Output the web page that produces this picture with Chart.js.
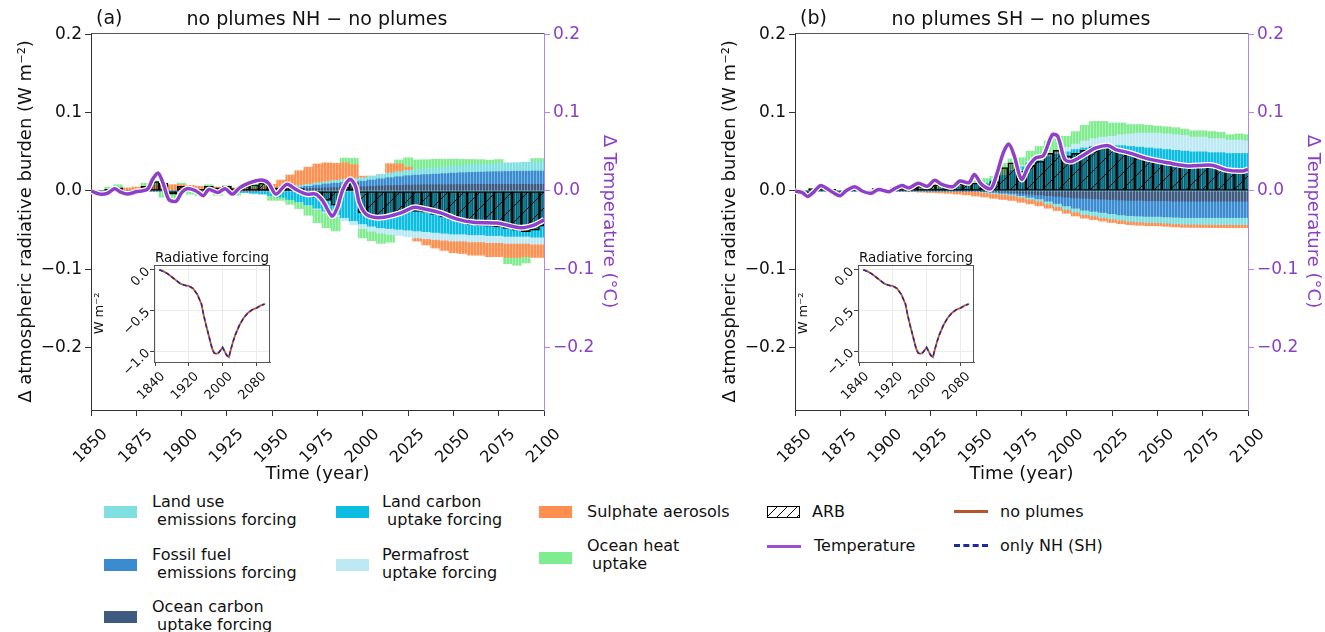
<!DOCTYPE html>
<html>
<head>
<meta charset="utf-8">
<script src="https://cdn.jsdelivr.net/npm/chart.js@4"></script>
<style>
html, body { margin: 0; padding: 0; overflow: hidden; background: #fff; }
body { width: 1325px; height: 632px; position: relative; font-family: 'DejaVu Sans', sans-serif; color: #111; }
canvas { position: absolute; }
.t { position: absolute; white-space: pre; font-size: 16px; line-height: 18px; }
.sw { position: absolute; width: 33px; height: 12px; }
.ln { position: absolute; width: 34px; height: 0; }
.ttl { position: absolute; font-size: 19px; line-height: 22px; white-space: pre; }
.ins { position: absolute; font-size: 13.5px; line-height: 16px; white-space: pre; transform: translateX(-50%); }
</style>
</head>
<body>

<canvas id="mainA" width="660" height="490" style="left:0;top:0"></canvas>
<canvas id="mainB" width="660" height="490" style="left:704px;top:0"></canvas>
<canvas id="insetA" width="192" height="200" style="left:88px;top:240px"></canvas>
<canvas id="insetB" width="192" height="200" style="left:792px;top:240px"></canvas>

<div class="ttl" style="left:96px;top:6px">(a)</div>
<div class="ttl" style="left:317px;top:7px;transform:translateX(-50%)">no plumes NH − no plumes</div>
<div class="ttl" style="left:800px;top:6px">(b)</div>
<div class="ttl" style="left:1021px;top:7px;transform:translateX(-50%)">no plumes SH − no plumes</div>
<div class="ins" style="left:212px;top:249px">Radiative forcing</div>
<div class="ins" style="left:916px;top:249px">Radiative forcing</div>

<!-- legend -->
<div class="sw" style="left:104px;top:506px;background:#80dfe0"></div>
<div class="t" style="left:152px;top:493px">Land use
 emissions forcing</div>
<div class="sw" style="left:104px;top:559px;background:#3b8bd0"></div>
<div class="t" style="left:152px;top:546px">Fossil fuel
 emissions forcing</div>
<div class="sw" style="left:104px;top:611px;background:#3f5a80"></div>
<div class="t" style="left:152px;top:598px">Ocean carbon
 uptake forcing</div>

<div class="sw" style="left:336px;top:506px;background:#0bbde0"></div>
<div class="t" style="left:382px;top:493px">Land carbon
 uptake forcing</div>
<div class="sw" style="left:336px;top:559px;background:#bce9f4"></div>
<div class="t" style="left:382px;top:546px">Permafrost
uptake forcing</div>

<div class="sw" style="left:539px;top:506px;background:#ff8f4f"></div>
<div class="t" style="left:587px;top:503px">Sulphate aerosols</div>
<div class="sw" style="left:539px;top:552px;background:#80ec90"></div>
<div class="t" style="left:587px;top:537px">Ocean heat
 uptake</div>

<div class="sw" style="left:767px;top:506px;width:31px;height:10px;border:1px solid #000;background:repeating-linear-gradient(135deg, #fff 0 6px, #000 6px 7px)"></div>
<div class="t" style="left:812px;top:503px">ARB</div>
<div class="ln" style="left:767px;top:545px;border-top:3px solid #9b4fcf"></div>
<div class="t" style="left:814px;top:537px">Temperature</div>

<div class="ln" style="left:954px;top:510px;border-top:3px solid #b5552b"></div>
<div class="t" style="left:1000px;top:503px">no plumes</div>
<div class="ln" style="left:954px;top:544px;border-top:3px dashed #1f2a9a"></div>
<div class="t" style="left:1000px;top:537px">only NH (SH)</div>

<script>
// ---- data ----
const years = [1850,1855,1860,1865,1870,1875,1880,1885,1890,1895,
  1900,1905,1910,1915,1920,1925,1930,1935,1940,1945,
  1950,1955,1960,1965,1970,1975,1980,1985,1990,1995,
  2000,2005,2010,2015,2020,2025,2030,2035,2040,2045,
  2050,2055,2060,2065,2070,2075,2080,2085,2090,2095,
  2100];

// panel (a): no plumes NH - no plumes  (W m-2)
const landUseA = [0,0,0,0,0,0,0,0,0,0,
  0,0,0,0,0,0,0,0,0,0.0003,
  0.0005,0.001,0.0015,0.002,0.0025,0.003,0.003,0.0035,0.004,0.004,
  0.0045,0.005,0.0055,0.006,0.0065,0.007,0.0075,0.008,0.008,0.0085,
  0.009,0.009,0.0095,0.01,0.01,0.0105,0.011,0.011,0.0115,0.012,
  0.012];
const fossilA = [0,0,0,0,0,0,0,0,0,0,
  0,0,0,0,0,0,0,0,0,0.0005,
  0.001,0.0015,0.002,0.0025,0.003,0.004,0.005,0.0055,0.006,0.0065,
  0.007,0.008,0.009,0.01,0.011,0.012,0.0125,0.013,0.0135,0.014,
  0.0145,0.015,0.0153,0.0156,0.016,0.0162,0.0165,0.0167,0.0168,0.017,
  0.017];
const oceanCarbonA = [0,0,0,0,0,0,0,0,0,0,
  0,0,0,0,0,0,0,0,0,0.0005,
  0.001,0.0015,0.002,0.0025,0.003,0.0035,0.004,0.0045,0.005,0.0052,
  0.0055,0.006,0.0065,0.007,0.0072,0.0075,0.0078,0.008,0.008,0.0082,
  0.0083,0.0084,0.0085,0.0085,0.0085,0.0085,0.0085,0.0085,0.0085,0.0085,
  0.0085];
const landCarbonA = [0,0,0,0,0,0,0,0,0,0,
  0,0,0,0,-0.0005,-0.001,-0.0015,-0.002,-0.003,-0.004,
  -0.006,-0.008,-0.011,-0.014,-0.018,-0.022,-0.026,-0.03,-0.034,-0.038,
  -0.042,-0.045,-0.047,-0.048,-0.049,-0.05,-0.051,-0.052,-0.053,-0.054,
  -0.055,-0.055,-0.056,-0.056,-0.057,-0.057,-0.058,-0.058,-0.058,-0.059,
  -0.059];
const permafrostA = [0,0,0,0,0,0,0,0,0,0,
  0,0,0,0,0,0,0,0,0,0,
  0,0,0,-0.0005,-0.001,-0.0015,-0.002,-0.003,-0.004,-0.005,
  -0.006,-0.0065,-0.007,-0.0075,-0.008,-0.0085,-0.009,-0.009,-0.009,-0.009,
  -0.009,-0.009,-0.009,-0.009,-0.009,-0.009,-0.009,-0.009,-0.009,-0.009,
  -0.009];
const sulphateA = [0,0.001,0.002,0.003,0.004,0.005,0.006,0.007,0.007,0.008,
  0.008,0.007,0.006,0.005,0.005,0.004,0.004,0.003,0.003,0.004,
  0.006,0.01,0.015,0.019,0.022,0.024,0.024,0.022,0.021,0.018,
  0.002,0,0,0.012,0.01,0.004,-0.004,-0.008,-0.011,-0.013,
  -0.015,-0.016,-0.017,-0.017,-0.018,-0.018,-0.018,-0.018,-0.017,-0.017,
  -0.017];
const oceanHeatA = [0.001,-0.004,0.003,0.005,-0.006,-0.003,0.004,0.006,-0.008,-0.01,
  0.002,-0.004,-0.006,0.003,-0.005,0.003,-0.004,0.004,0.006,0.005,
  -0.006,-0.004,-0.006,-0.008,-0.012,-0.017,-0.019,-0.018,0.006,0.008,
  -0.012,-0.012,-0.013,-0.01,0.005,0.012,0.012,0.011,0.011,0.01,
  0.009,0.008,0.007,0.006,0.005,0.005,-0.008,-0.01,-0.008,0.004,
  0.004];
const arbA = [0,-0.002,0.002,0.004,-0.002,0.001,0.006,0.012,0.01,-0.004,
  0.006,0.005,0.002,0.006,0.004,0.006,0.003,0.006,0.008,0.01,
  0.004,0.004,0.003,0.003,-0.003,-0.008,-0.012,-0.018,0.005,0.01,
  -0.028,-0.033,-0.034,-0.032,-0.028,-0.025,-0.026,-0.027,-0.03,-0.033,
  -0.037,-0.04,-0.043,-0.044,-0.045,-0.046,-0.048,-0.05,-0.052,-0.05,
  -0.045];
const tempYearsA = [1850,1855,1859,1863,1866,1870,1875,1881,1884,1887,
  1890,1893,1897,1900,1903,1908,1912,1915,1920,1924,
  1928,1932,1937,1944,1948,1952,1958,1963,1969,1974,
  1978,1983,1986,1989,1993,1996,1998,2002,2010,2021,
  2028,2034,2043,2052,2061,2074,2087,2094,2100];
const tempA = [0,-0.004,-0.003,0.003,-0.001,-0.004,-0.001,0.002,0.015,0.023,
  0.0085,-0.011,-0.013,-0.002,0.003,0,-0.006,0.002,-0.002,0.003,
  -0.004,0.004,0.01,0.014,0.01,-0.004,0.0085,0.002,-0.004,-0.004,
  -0.013,-0.032,-0.021,0.002,0.015,0.006,-0.015,-0.03,-0.034,-0.028,
  -0.021,-0.023,-0.028,-0.036,-0.04,-0.041,-0.047,-0.044,-0.037];

// panel (b): no plumes SH - no plumes  (W m-2)
const landUseB = [0,0,0,0,0,0,0,0,0,0,
  0,0,0,0,0,0,0,0,0,0,
  -0.0005,-0.0007,-0.001,-0.0013,-0.0016,-0.002,-0.0025,-0.003,-0.0035,-0.004,
  -0.0045,-0.005,-0.0055,-0.006,-0.0065,-0.0068,-0.007,-0.0073,-0.0076,-0.0078,
  -0.008,-0.0082,-0.0084,-0.0085,-0.0086,-0.0087,-0.0088,-0.0089,-0.009,-0.009,
  -0.009];
const fossilB = [0,0,0,0,0,0,0,0,0,0,
  0,0,0,0,0,0,0,0,0,0,
  0,-0.0005,-0.001,-0.0015,-0.002,-0.003,-0.004,-0.005,-0.007,-0.009,
  -0.011,-0.013,-0.015,-0.016,-0.017,-0.018,-0.019,-0.0195,-0.02,-0.02,
  -0.02,-0.0205,-0.0205,-0.021,-0.021,-0.021,-0.021,-0.021,-0.021,-0.021,
  -0.021];
const oceanCarbonB = [0,0,0,0,0,0,0,0,0,0,
  0,0,0,0,0,0,0,0,0,0,
  0,-0.0005,-0.001,-0.0015,-0.002,-0.003,-0.004,-0.005,-0.006,-0.007,
  -0.008,-0.009,-0.0095,-0.01,-0.0105,-0.011,-0.0115,-0.012,-0.012,-0.0125,
  -0.0125,-0.0125,-0.013,-0.013,-0.013,-0.013,-0.013,-0.013,-0.013,-0.013,
  -0.013];
const landCarbonB = [0,0,0,0,0,0,0,0,0,0,
  0,0,0.0005,0.001,0.0015,0.002,0.003,0.004,0.005,0.006,
  0.008,0.01,0.014,0.02,0.026,0.031,0.036,0.04,0.044,0.047,
  0.05,0.053,0.055,0.057,0.058,0.058,0.058,0.057,0.056,0.055,
  0.054,0.053,0.052,0.051,0.05,0.05,0.049,0.049,0.048,0.048,
  0.048];
const permafrostB = [0,0,0,0,0,0,0,0,0,0,
  0,0,0,0,0,0,0,0,0,0,
  0,0,0,0.0005,0.001,0.0015,0.002,0.003,0.004,0.005,
  0.006,0.007,0.009,0.01,0.011,0.012,0.014,0.016,0.018,0.019,
  0.02,0.02,0.02,0.02,0.019,0.019,0.018,0.018,0.017,0.017,
  0.016];
const sulphateB = [0,0,0,0,0,0,0,0,0,0,
  0,0,-0.0005,-0.001,-0.0015,-0.002,-0.0025,-0.003,-0.004,-0.005,
  -0.006,-0.006,-0.0065,-0.0065,-0.0065,-0.0065,-0.006,-0.006,-0.0055,-0.005,
  -0.005,-0.005,-0.0048,-0.0046,-0.0045,-0.0045,-0.0044,-0.0043,-0.0042,-0.0041,
  -0.004,-0.004,-0.004,-0.004,-0.004,-0.004,-0.004,-0.004,-0.004,-0.004,
  -0.004];
const oceanHeatB = [0.002,-0.002,0.003,0.004,0.002,-0.003,0.003,0.002,-0.002,0.003,
  0.002,0.003,0.004,0.003,0.004,0.005,0.005,0.004,0.006,0.005,
  0.008,0.006,0.005,0.015,0.014,0.01,0.013,0.014,0.016,0.018,
  0.014,0.016,0.02,0.022,0.02,0.017,0.015,0.012,0.011,0.01,
  0.009,0.009,0.009,0.008,0.008,0.008,0.009,0.008,0.007,0.008,
  0.008];
const arbB = [0,-0.002,0.003,0.004,0.002,-0.002,0.003,0.002,0.001,0.003,
  0.002,0.004,0.004,0.005,0.006,0.008,0.008,0.006,0.009,0.01,
  0.01,0.008,0.012,0.03,0.036,0.025,0.033,0.038,0.048,0.052,
  0.045,0.048,0.052,0.056,0.058,0.055,0.052,0.049,0.045,0.042,
  0.04,0.037,0.035,0.033,0.032,0.032,0.031,0.029,0.027,0.026,
  0.026];
const tempYearsB = [1850,1854,1857,1860,1864,1867,1871,1875,1878,1883,
  1887,1892,1896,1902,1905,1909,1913,1918,1923,1927,
  1931,1937,1941,1946,1949,1953,1958,1961,1965,1968,
  1971,1975,1979,1983,1987,1992,1995,1999,2003,2010,
  2016,2023,2027,2034,2045,2056,2067,2080,2088,2097,
  2100];
const tempB = [0,-0.002,-0.007,-0.002,0.007,0.004,-0.002,-0.006,0,0.0055,
  0,-0.003,0.002,-0.001,0.003,0.007,0.004,0.01,0.006,0.0136,
  0.0085,0.0055,0.0128,0.0106,0.021,0.0085,0.003,0.019,0.049,0.06,
  0.045,0.015,0.032,0.0425,0.045,0.072,0.07,0.04,0.038,0.047,
  0.055,0.058,0.053,0.049,0.041,0.036,0.032,0.033,0.027,0.0255,
  0.0277];

// insets: radiative forcing (W m-2)
const rfYears = [1850,1860,1870,1880,1890,1900,1910,1920,1930,1940,
  1950,1955,1960,1965,1970,1975,1980,1985,1990,1995,
  2000,2005,2010,2015,2020,2025,2030,2035,2040,2050,
  2060,2070,2080,2090,2100];
const rfNoPlumes = [0,-0.02,-0.05,-0.09,-0.13,-0.17,-0.19,-0.2,-0.23,-0.3,
  -0.42,-0.55,-0.66,-0.76,-0.86,-0.96,-1.02,-1.03,-1.02,-0.99,
  -0.95,-1.0,-1.05,-1.07,-0.97,-0.88,-0.8,-0.74,-0.68,-0.59,
  -0.53,-0.49,-0.47,-0.44,-0.42];
const rfOnlyNH = [0,-0.02,-0.05,-0.09,-0.13,-0.17,-0.19,-0.2,-0.23,-0.3,
  -0.42,-0.55,-0.66,-0.76,-0.86,-0.96,-1.02,-1.03,-1.02,-0.99,
  -0.95,-1.0,-1.05,-1.07,-0.97,-0.88,-0.8,-0.74,-0.68,-0.59,
  -0.53,-0.49,-0.47,-0.44,-0.42];
const rfOnlySH = [0,-0.02,-0.05,-0.09,-0.13,-0.17,-0.19,-0.2,-0.23,-0.3,
  -0.42,-0.55,-0.66,-0.76,-0.86,-0.96,-1.02,-1.03,-1.02,-0.99,
  -0.95,-1.0,-1.05,-1.07,-0.97,-0.88,-0.8,-0.74,-0.68,-0.59,
  -0.53,-0.49,-0.47,-0.44,-0.42];

// ---- styles ----
const colors = {
  landUse: '#80dfe0', fossil: '#3b8bd0', oceanCarbon: '#3f5a80', landCarbon: '#0bbde0',
  permafrost: '#bce9f4', sulphate: '#ff8f4f', oceanHeat: '#80ec90',
  temp: '#8f3fc8', tempAxis: '#8a3fc5', tempSpine: '#b08ae0'
};
const FONT = "'DejaVu Sans', sans-serif";
Chart.defaults.font.family = FONT;
Chart.defaults.color = '#111';

function fmt(v) {
  if (Math.abs(v) < 1e-9) return '0.0';
  return (v < 0 ? '\u2212' : '') + Math.abs(v).toFixed(1);
}

// thin vertical stripes like the yearly bar edges
function stripes(ctx, color) {
  const c = document.createElement('canvas');
  c.width = 3; c.height = 4;
  const g = c.getContext('2d');
  g.fillStyle = color; g.fillRect(0, 0, 3, 4);
  g.fillStyle = 'rgba(255,255,255,0.35)'; g.fillRect(2, 0, 1, 4);
  return ctx.createPattern(c, 'repeat');
}

function hatch(ctx) {
  const c = document.createElement('canvas');
  c.width = 16; c.height = 16;
  const g = c.getContext('2d');
  g.fillStyle = 'rgba(0,0,0,0.3)'; g.fillRect(0, 0, 16, 16);
  g.fillStyle = 'rgba(0,0,0,0.3)';
  for (let x = 0; x < 16; x += 2) g.fillRect(x, 0, 1, 16);
  g.strokeStyle = '#000'; g.lineWidth = 1;
  g.beginPath();
  g.moveTo(0, 16); g.lineTo(16, 0);
  g.moveTo(-2, 2); g.lineTo(2, -2);
  g.moveTo(14, 18); g.lineTo(18, 14);
  g.stroke();
  return ctx.createPattern(c, 'repeat');
}

const frame = {
  id: 'frame',
  afterDraw(chart, args, o) {
    const a = chart.chartArea, c = chart.ctx;
    c.save();
    c.lineWidth = 1;
    if (o.top) { c.strokeStyle = o.top; c.beginPath(); c.moveTo(a.left, a.top + 0.5); c.lineTo(a.right, a.top + 0.5); c.stroke(); }
    if (o.right) { c.strokeStyle = o.right; c.beginPath(); c.moveTo(a.right - 0.5, a.top); c.lineTo(a.right - 0.5, a.bottom); c.stroke(); }
    c.restore();
  }
};
Chart.register(frame);

function mainChart(id, d) {
  const ctx = document.getElementById(id).getContext('2d');
  const pts = d.tYears.map((x, i) => ({x: x, y: d.temp[i]}));
  const comp = (label, data, color, order) => ({
    type: 'bar', label: label, data: data, backgroundColor: stripes(ctx, color),
    borderWidth: 0, order: order, barPercentage: 1, categoryPercentage: 1, yAxisID: 'y'
  });
  return new Chart(ctx, {
    type: 'bar',
    data: {
      labels: years,
      datasets: [
        {type: 'line', label: 'Temperature', data: pts, yAxisID: 'y2', borderColor: colors.temp,
         borderWidth: 3.5, pointRadius: 0, tension: 0.3, order: 0},
        {type: 'line', label: 'outline', data: pts, yAxisID: 'y2', borderColor: '#ffffff',
         borderWidth: 6, pointRadius: 0, tension: 0.3, order: 1},
        {type: 'bar', label: 'ARB', data: d.arb, stack: 'arb', grouped: false, yAxisID: 'y',
         backgroundColor: hatch(ctx), borderColor: '#000', borderWidth: 0.8, borderSkipped: false,
         barPercentage: 1, categoryPercentage: 1, order: 2},
        comp('Ocean carbon uptake forcing', d.oceanCarbon, colors.oceanCarbon, 10),
        comp('Fossil fuel emissions forcing', d.fossil, colors.fossil, 11),
        comp('Land use emissions forcing', d.landUse, colors.landUse, 12),
        comp('Land carbon uptake forcing', d.landCarbon, colors.landCarbon, 13),
        comp('Permafrost uptake forcing', d.permafrost, colors.permafrost, 14),
        comp('Sulphate aerosols', d.sulphate, colors.sulphate, 15),
        comp('Ocean heat uptake', d.oceanHeat, colors.oceanHeat, 16)
      ]
    },
    options: {
      responsive: false,
      animation: false,
      layout: {padding: {top: 33, left: 0, right: 0, bottom: 0}},
      plugins: {legend: {display: false}, tooltip: {enabled: false}, frame: {top: '#555'}},
      scales: {
        x: {
          type: 'linear', min: 1850, max: 2100, stacked: true, offset: false,
          ticks: {stepSize: 25, minRotation: 45, maxRotation: 45, autoSkip: false, font: {size: 16}, color: '#111',
                  padding: 9, labelOffset: 14, callback: v => String(v)},
          grid: {drawOnChartArea: false, tickLength: 6, tickColor: '#333', offset: false},
          border: {color: '#333'},
          title: {display: true, text: 'Time (year)', font: {size: 18}, color: '#111', padding: {top: 0, bottom: 5}},
          afterFit: s => { s.height = 80; }
        },
        y: {
          position: 'left', stacked: true, min: -0.28, max: 0.202,
          ticks: {stepSize: 0.1, includeBounds: false, font: {size: 17}, color: '#111', padding: 3, callback: fmt},
          grid: {drawOnChartArea: false, tickLength: 6, tickColor: '#333'},
          border: {color: '#333'},
          title: {display: true, text: 'Δ atmospheric radiative burden (W m⁻²)', font: {size: 18}, color: '#111',
                  padding: {top: 16, bottom: 0}},
          afterFit: s => { s.width = 91; }
        },
        y2: {
          position: 'right', min: -0.28, max: 0.202,
          ticks: {stepSize: 0.1, includeBounds: false, font: {size: 17}, color: colors.tempAxis, padding: 3, callback: fmt},
          grid: {drawOnChartArea: false, tickLength: 6, tickColor: colors.tempSpine},
          border: {color: colors.tempSpine},
          title: {display: true, text: 'Δ Temperature (°C)', font: {size: 18}, color: colors.tempAxis,
                  padding: {top: 41, bottom: 0}},
          afterFit: s => { s.width = 116; }
        }
      }
    }
  });
}

function insetChart(id, rfOther) {
  const ctx = document.getElementById(id).getContext('2d');
  return new Chart(ctx, {
    type: 'line',
    data: {
      datasets: [
        {data: rfYears.map((x, i) => ({x: x, y: rfOther[i]})), borderColor: '#1f2a9a', borderDash: [4, 3],
         borderWidth: 1.5, pointRadius: 0, order: 0},
        {data: rfYears.map((x, i) => ({x: x, y: rfNoPlumes[i]})), borderColor: '#c0562a',
         borderWidth: 1.8, pointRadius: 0, order: 1}
      ]
    },
    options: {
      responsive: false,
      animation: false,
      layout: {padding: {top: 25, left: 0, right: 10, bottom: 0}},
      plugins: {legend: {display: false}, tooltip: {enabled: false}, frame: {top: '#555', right: '#555'}},
      scales: {
        x: {
          type: 'linear', min: 1837.5, max: 2112.5,
          ticks: {stepSize: 80, includeBounds: false, minRotation: 45, maxRotation: 45, autoSkip: false,
                  font: {size: 13}, color: '#111', padding: 3, labelOffset: 8, callback: v => String(v)},
          grid: {color: '#ececec', tickLength: 4, tickColor: '#444'},
          border: {color: '#555'},
          afterFit: s => { s.height = 78; }
        },
        y: {
          min: -1.13, max: 0.058,
          ticks: {stepSize: 0.5, includeBounds: false, minRotation: 45, maxRotation: 45,
                  font: {size: 13}, color: '#111', padding: 2, callback: fmt},
          grid: {color: '#ececec', tickLength: 4, tickColor: '#444'},
          border: {color: '#555'},
          title: {display: true, text: 'W m⁻²', font: {size: 13}, color: '#111', padding: {top: 4, bottom: 0}},
          afterFit: s => { s.width = 66; }
        }
      }
    }
  });
}

mainChart('mainA', {
  landUse: landUseA, fossil: fossilA, oceanCarbon: oceanCarbonA, landCarbon: landCarbonA,
  permafrost: permafrostA, sulphate: sulphateA, oceanHeat: oceanHeatA, arb: arbA,
  tYears: tempYearsA, temp: tempA
});
mainChart('mainB', {
  landUse: landUseB, fossil: fossilB, oceanCarbon: oceanCarbonB, landCarbon: landCarbonB,
  permafrost: permafrostB, sulphate: sulphateB, oceanHeat: oceanHeatB, arb: arbB,
  tYears: tempYearsB, temp: tempB
});
insetChart('insetA', rfOnlyNH);
insetChart('insetB', rfOnlySH);
</script>
</body>
</html>
